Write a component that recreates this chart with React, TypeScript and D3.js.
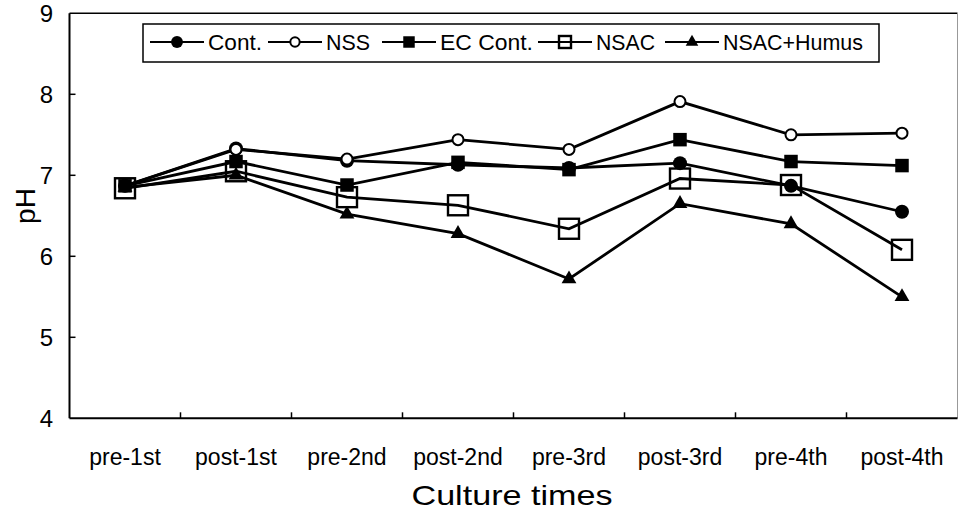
import * as d3 from "d3";

const width = 959;
const height = 512;

// 資料
const categories = [
  "pre-1st",
  "post-1st",
  "pre-2nd",
  "post-2nd",
  "pre-3rd",
  "post-3rd",
  "pre-4th",
  "post-4th",
];
const contValues = [6.87, 7.33, 7.18, 7.13, 7.09, 7.15, 6.87, 6.55];
const nssValues = [6.87, 7.32, 7.2, 7.44, 7.32, 7.91, 7.5, 7.52];
const ecContValues = [6.87, 7.17, 6.88, 7.16, 7.07, 7.44, 7.17, 7.12];
const nsacValues = [6.84, 7.05, 6.73, 6.63, 6.34, 6.96, 6.88, 6.08];
const nsacHumusValues = [6.85, 7.0, 6.52, 6.28, 5.72, 6.65, 6.4, 5.5];
const yTicks = [4, 5, 6, 7, 8, 9];

type MarkerKind = "dot" | "circle" | "square" | "openSquare" | "triangle";

const series: { name: string; values: number[]; marker: MarkerKind }[] = [
  { name: "Cont.", values: contValues, marker: "dot" },
  { name: "NSS", values: nssValues, marker: "circle" },
  { name: "EC Cont.", values: ecContValues, marker: "square" },
  { name: "NSAC", values: nsacValues, marker: "openSquare" },
  { name: "NSAC+Humus", values: nsacHumusValues, marker: "triangle" },
];

// 圖例位置 (線段起點, 文字寬度)
const legendLayout = [
  { x: 150, textWidth: 54 },
  { x: 268, textWidth: 44 },
  { x: 382, textWidth: 93 },
  { x: 538, textWidth: 59 },
  { x: 665, textWidth: 140 },
];

const plot = { left: 69.5, right: 957.5, top: 13.3, bottom: 418.3 };
const font = "'Liberation Sans', Arial, sans-serif";

function Marker({
  kind,
  cx,
  cy,
  scale = 1,
}: {
  kind: MarkerKind;
  cx: number;
  cy: number;
  scale?: number;
}) {
  if (kind === "dot")
    return <circle cx={cx} cy={cy} r={7 * scale} fill="#000" />;
  if (kind === "circle")
    return (
      <circle
        cx={cx}
        cy={cy}
        r={5.5 * scale}
        fill="#fff"
        stroke="#000"
        strokeWidth={2}
      />
    );
  if (kind === "square") {
    const s = 13.5 * scale;
    return <rect x={cx - s / 2} y={cy - s / 2} width={s} height={s} fill="#000" />;
  }
  if (kind === "openSquare") {
    const s = 20 * scale;
    return (
      <rect
        x={cx - s / 2}
        y={cy - s / 2}
        width={s}
        height={s}
        fill="#fff"
        fillOpacity={0}
        stroke="#000"
        strokeWidth={2.4}
      />
    );
  }
  const tri = d3.symbol(d3.symbolTriangle, 95 * scale * scale)() ?? "";
  return <path d={tri} transform={`translate(${cx},${cy})`} fill="#000" />;
}

export default function App() {
  const x = d3
    .scaleBand<string>()
    .domain(categories)
    .range([plot.left, plot.right]);

  const y = d3.scaleLinear().domain([4, 9]).range([plot.bottom, plot.top]);

  const cx = (c: string) => (x(c) ?? 0) + x.bandwidth() / 2;

  const line = d3
    .line<number>()
    .x((_, i) => cx(categories[i]))
    .y((d) => y(d));

  return (
    <svg
      width={width}
      height={height}
      viewBox={`0 0 ${width} ${height}`}
      style={{ position: "absolute", left: 0, top: 0, background: "#fff" }}
      fontFamily={font}
    >
      {/* 外框 */}
      <line x1={plot.left} x2={plot.right} y1={plot.top} y2={plot.top} stroke="#000" strokeWidth={1.6} />
      <line x1={plot.right} x2={plot.right} y1={plot.top} y2={plot.bottom} stroke="#999" strokeWidth={1} />
      <line x1={plot.left} x2={plot.left} y1={plot.top} y2={plot.bottom} stroke="#000" strokeWidth={2} />
      <line x1={plot.left} x2={plot.right} y1={plot.bottom} y2={plot.bottom} stroke="#000" strokeWidth={2} />

      {/* y 軸刻度 */}
      {yTicks.map((t) => (
        <g key={t}>
          {t > 4 && t < 9 && (
            <line x1={plot.left} x2={plot.left + 6} y1={y(t)} y2={y(t)} stroke="#000" strokeWidth={1.5} />
          )}
          <text x={53} y={y(t) + 9} textAnchor="end" fontSize={24} fill="#000">
            {t}
          </text>
        </g>
      ))}

      {/* x 軸刻度 */}
      {categories.slice(1).map((c) => (
        <line
          key={c}
          x1={x(c) ?? 0}
          x2={x(c) ?? 0}
          y1={plot.bottom}
          y2={plot.bottom - 6}
          stroke="#000"
          strokeWidth={1.5}
        />
      ))}
      {categories.map((c) => (
        <text key={c} x={cx(c)} y={465} textAnchor="middle" fontSize={23} fill="#000">
          {c}
        </text>
      ))}

      {/* 軸標題 */}
      <text
        x={512}
        y={505}
        textAnchor="middle"
        fontSize={28}
        textLength={201}
        lengthAdjust="spacingAndGlyphs"
        fill="#000"
      >
        Culture times
      </text>
      <text
        transform="translate(35,206) rotate(-90)"
        textAnchor="middle"
        fontSize={28}
        fill="#000"
      >
        pH
      </text>

      {/* 折線 */}
      {series.map((s) => (
        <path key={s.name} d={line(s.values) ?? ""} fill="none" stroke="#000" strokeWidth={2.8} />
      ))}
      {series.map((s) =>
        s.values.map((v, i) => (
          <Marker key={`${s.name}-${i}`} kind={s.marker} cx={cx(categories[i])} cy={y(v)} />
        )),
      )}

      {/* 圖例 */}
      <rect x={143} y={24} width={736} height={38} fill="#fff" stroke="#000" strokeWidth={1.5} />
      {series.map((s, i) => {
        const lx = legendLayout[i].x;
        return (
          <g key={s.name}>
            <line x1={lx} x2={lx + 54} y1={42} y2={42} stroke="#000" strokeWidth={2.2} />
            <Marker kind={s.marker} cx={lx + 27} cy={42} scale={s.marker === "openSquare" ? 0.6 : 0.85} />
            <text
              x={lx + 58}
              y={50}
              fontSize={22}
              textLength={legendLayout[i].textWidth}
              lengthAdjust="spacingAndGlyphs"
              fill="#000"
            >
              {s.name}
            </text>
          </g>
        );
      })}
    </svg>
  );
}
